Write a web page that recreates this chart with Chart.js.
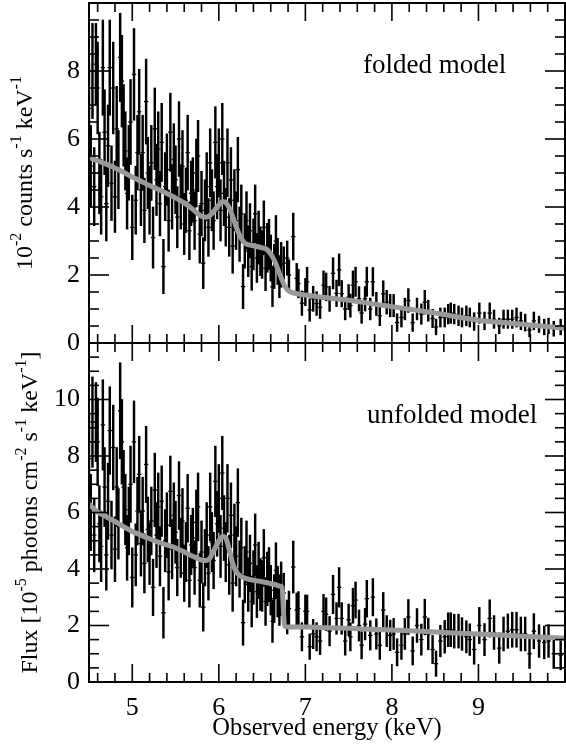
<!DOCTYPE html>
<html>
<head>
  <meta charset="utf-8">
  <title>Folded and unfolded spectrum</title>
  <script src="https://cdn.jsdelivr.net/npm/chart.js"></script>
  <style>
    body { margin: 0; background: #fff; }
    #wrap { position: relative; width: 566px; height: 744px; }
    canvas { position: absolute; left: 0; }
    #top { top: 0; }
    #bottom { top: 340px; }
  </style>
</head>
<body>
<div id="wrap">
  <canvas id="top" width="566" height="362"></canvas>
  <canvas id="bottom" width="566" height="404"></canvas>
</div>
<script>
// bin energies (keV)
const energies = [
  4.50,4.52,4.54,4.56,4.58,4.60,4.62,4.64,4.66,4.68,
  4.70,4.72,4.74,4.76,4.78,4.80,4.82,4.84,4.86,4.88,
  4.90,4.92,4.94,4.96,4.98,5.00,5.02,5.04,5.06,5.08,
  5.10,5.12,5.14,5.16,5.18,5.20,5.22,5.24,5.26,5.28,
  5.30,5.32,5.34,5.36,5.38,5.40,5.42,5.44,5.46,5.48,
  5.50,5.52,5.54,5.56,5.58,5.60,5.62,5.64,5.66,5.68,
  5.70,5.72,5.74,5.76,5.78,5.80,5.82,5.84,5.86,5.88,
  5.90,5.92,5.94,5.96,5.98,6.00,6.02,6.04,6.06,6.08,
  6.10,6.12,6.14,6.16,6.18,6.20,6.22,6.24,6.26,6.28,
  6.30,6.32,6.34,6.36,6.38,6.40,6.42,6.44,6.46,6.48,
  6.50,6.52,6.54,6.56,6.58,6.60,6.62,6.64,6.66,6.68,
  6.70,6.72,
  6.75,6.79,6.81,6.86,6.90,6.92,6.96,7.00,7.02,7.05,
  7.09,7.13,7.17,7.21,7.24,7.28,7.32,7.36,7.39,7.42,
  7.46,7.50,7.52,7.55,7.58,7.62,7.65,7.69,7.71,7.75,
  7.78,7.82,7.86,7.90,7.94,7.98,8.02,8.06,8.11,8.15,
  8.19,8.24,8.29,8.34,8.38,8.42,8.47,8.51,8.56,8.61,
  8.65,8.68,8.72,8.77,8.81,8.86,8.90,8.95,9.01,9.07,
  9.13,9.18,9.24,9.29,9.34,9.39,9.44,9.49,9.54,9.59,
  9.64,9.70,9.76,9.81,9.87,9.95
];

// folded spectrum, 10^-2 counts s^-1 keV^-1
const foldedCounts = [
  6.9,5.2,8.0,4.6,8.2,7.5,5.0,4.3,8.1,6.2,
  4.1,5.8,8.1,4.7,7.5,4.3,6.3,5.1,8.4,7.7,
  6.4,5.65,4.4,5.3,6.5,3.4,7.9,4.2,5.6,6.8,
  4.5,5.6,3.9,7.1,5.0,4.2,5.3,3.1,6.3,4.8,
  5.7,4.1,5.9,2.25,4.6,5.1,3.6,6.2,4.3,5.4,
  4.8,3.7,6.0,4.3,5.2,3.5,4.2,5.6,3.3,4.4,
  4.5,3.6,5.0,5.5,3.2,4.1,2.35,3.9,4.6,3.4,
  5.3,4.2,3.6,5.9,4.6,5.3,3.9,6.0,4.4,3.7,
  5.3,3.4,4.8,2.85,4.2,3.6,5.1,3.2,3.8,1.66,
  3.0,3.6,2.7,3.3,2.25,2.9,3.8,2.5,3.1,2.7,
  2.6,3.4,2.2,2.8,2.9,2.5,1.65,2.25,3.0,2.4,
  1.95,2.3,
  2.35,2.5,2.0,3.13,1.9,1.75,1.17,1.5,1.8,0.97,
  1.3,1.16,1.05,1.7,1.65,1.3,2.05,1.46,2.15,1.45,
  1.0,1.35,1.1,1.7,1.8,1.3,0.88,1.3,1.8,1.0,
  1.8,1.15,0.8,1.45,1.2,1.1,1.1,0.6,0.75,1.0,
  1.25,0.6,1.0,0.85,1.2,0.95,0.72,0.47,0.75,0.75,
  0.85,0.88,0.85,0.8,0.75,0.8,0.75,0.63,0.88,0.65,
  0.88,0.7,0.5,0.7,0.7,0.7,0.75,0.65,0.6,0.38,
  0.65,0.55,0.47,0.5,0.42,0.47
];
const foldedErrors = [
  1.35,1.2,1.4,1.15,1.2,1.35,1.2,1.1,1.4,1.25,
  1.1,1.2,1.4,1.1,1.35,1.05,1.25,1.15,1.3,1.35,
  1.2,1.15,1.05,1.1,1.25,0.95,1.35,1.0,1.1,1.25,
  1.05,1.1,0.95,1.25,1.05,1.0,1.1,0.9,1.2,1.05,
  1.1,0.95,1.15,0.8,1.0,1.05,0.9,1.15,0.95,1.05,
  1.0,0.9,1.1,0.95,1.05,0.9,0.95,1.1,0.85,0.95,
  0.95,0.85,1.0,1.05,0.85,0.95,0.75,0.9,1.0,0.85,
  1.0,0.9,0.85,1.05,0.95,1.0,0.9,1.05,0.95,0.85,
  1.0,0.85,0.95,0.8,0.9,0.85,0.95,0.8,0.85,0.65,
  0.8,0.85,0.75,0.8,0.7,0.75,0.85,0.72,0.78,0.72,
  0.7,0.78,0.66,0.72,0.74,0.68,0.58,0.65,0.75,0.68,
  0.62,0.66,
  0.48,0.5,0.45,0.69,0.44,0.42,0.36,0.4,0.43,0.33,
  0.37,0.35,0.33,0.42,0.41,0.37,0.46,0.39,0.47,0.39,
  0.32,0.37,0.34,0.42,0.43,0.36,0.3,0.36,0.43,0.32,
  0.42,0.34,0.29,0.38,0.35,0.33,0.33,0.26,0.28,0.32,
  0.35,0.26,0.32,0.3,0.35,0.31,0.27,0.23,0.28,0.28,
  0.29,0.3,0.29,0.29,0.28,0.29,0.28,0.26,0.3,0.26,
  0.3,0.27,0.23,0.27,0.27,0.27,0.28,0.26,0.25,0.2,
  0.26,0.24,0.23,0.23,0.22,0.23
];

// unfolded spectrum, 10^-5 photons cm^-2 s^-1 keV^-1
const unfoldedFlux = [
  7.9,6.0,9.2,5.2,9.2,8.5,5.6,4.8,9.1,6.9,
  4.5,6.4,8.9,5.2,8.3,4.7,6.9,5.6,9.6,8.5,
  6.9,6.1,4.75,5.7,7.0,3.7,8.5,4.5,6.05,7.35,
  4.9,6.05,4.2,7.7,5.4,4.55,5.7,3.35,6.8,5.2,
  6.2,4.45,6.4,2.45,5.0,5.55,3.9,6.75,4.7,5.9,
  5.3,4.05,6.6,4.75,5.7,3.85,4.6,6.15,3.6,4.85,
  5.1,4.05,5.65,6.2,3.6,4.6,2.65,4.4,5.2,3.85,
  6.2,4.95,4.3,7.1,5.6,6.5,4.8,7.4,5.45,4.6,
  6.5,4.15,5.9,3.5,5.2,4.45,6.35,4.0,4.75,2.1,
  3.8,4.6,3.45,4.2,2.85,3.7,4.85,3.2,3.95,3.45,
  3.4,4.4,2.85,3.65,3.8,3.25,2.15,2.95,3.95,3.2,
  2.9,3.3,
  3.15,2.3,2.6,4.07,2.55,2.6,1.6,2.5,2.5,1.25,
  1.7,1.6,1.45,2.5,2.4,1.8,3.1,2.25,3.35,2.25,
  1.45,2.2,1.6,2.7,2.9,2.0,1.3,2.05,2.95,1.65,
  3.0,1.7,1.3,2.55,1.8,1.65,1.7,1.05,1.3,1.7,
  2.3,1.1,2.0,1.5,2.3,1.7,1.15,0.65,1.45,1.6,
  1.85,1.85,1.8,1.8,1.7,1.6,1.5,1.15,2.0,1.5,
  2.25,1.75,1.2,1.7,1.8,1.85,1.85,1.7,1.7,1.0,
  1.8,1.45,1.4,1.45,1.0,0.95
];
const unfoldedErrors = [
  1.55,1.35,1.6,1.3,1.4,1.55,1.35,1.25,1.6,1.4,
  1.25,1.35,1.55,1.2,1.5,1.15,1.4,1.25,1.7,1.5,
  1.3,1.25,1.15,1.2,1.35,1.05,1.45,1.1,1.2,1.35,
  1.15,1.2,1.05,1.35,1.15,1.1,1.2,1.0,1.3,1.15,
  1.2,1.05,1.25,0.9,1.1,1.15,1.0,1.25,1.05,1.15,
  1.1,1.0,1.2,1.05,1.15,1.0,1.05,1.2,0.95,1.05,
  1.05,0.95,1.15,1.2,0.95,1.1,0.85,1.0,1.15,0.95,
  1.2,1.05,1.0,1.25,1.15,1.2,1.1,1.3,1.15,1.05,
  1.2,1.05,1.15,1.0,1.1,1.05,1.2,1.0,1.05,0.8,
  1.0,1.1,0.95,1.0,0.9,0.95,1.1,0.92,1.0,0.92,
  0.9,1.0,0.85,0.95,0.96,0.88,0.75,0.85,0.98,0.9,
  0.9,0.95,
  0.7,0.6,0.62,0.92,0.6,0.6,0.5,0.58,0.58,0.45,
  0.52,0.5,0.48,0.6,0.58,0.52,0.68,0.56,0.7,0.56,
  0.5,0.56,0.5,0.62,0.64,0.55,0.48,0.56,0.65,0.52,
  0.66,0.54,0.5,0.62,0.55,0.54,0.55,0.48,0.5,0.55,
  0.62,0.5,0.6,0.55,0.63,0.56,0.5,0.45,0.56,0.58,
  0.6,0.6,0.6,0.6,0.58,0.57,0.56,0.52,0.64,0.57,
  0.66,0.6,0.54,0.6,0.61,0.62,0.62,0.6,0.6,0.52,
  0.62,0.58,0.58,0.58,0.52,0.52
];

// best-fit model curves
const modelEnergies = [
  4.5,4.6,4.7,4.8,4.9,5.0,5.1,5.2,5.3,5.4,
  5.5,5.6,5.7,5.75,5.8,5.85,5.9,5.95,6.0,6.05,
  6.08,6.12,6.16,6.2,6.25,6.3,6.4,6.5,6.55,6.6,
  6.65,6.7,6.73,6.76,6.8,6.85,6.9,7.0,7.25,7.5,
  7.75,8.0,8.5,9.0,9.5,10.0
];
const foldedModel = [
  5.45,5.36,5.26,5.15,5.02,4.88,4.76,4.63,4.52,4.40,
  4.27,4.12,3.93,3.82,3.73,3.70,3.76,3.90,4.06,4.16,
  4.13,3.98,3.72,3.42,3.12,2.94,2.86,2.80,2.76,2.62,
  2.38,2.05,1.86,1.68,1.55,1.48,1.45,1.41,1.33,1.26,
  1.16,1.07,0.88,0.67,0.55,0.43
];
const unfoldedModel = [
  6.30,6.02,5.85,5.68,5.50,5.33,5.20,5.07,4.95,4.85,
  4.75,4.60,4.45,4.38,4.32,4.30,4.40,4.70,5.00,5.15,
  5.10,4.70,4.20,3.90,3.75,3.68,3.60,3.55,3.52,3.48,
  3.45,3.40,3.36,1.97,1.95,1.95,1.95,1.95,1.92,1.90,
  1.87,1.84,1.77,1.70,1.62,1.55
];

const xTicks = [5, 6, 7, 8, 9];
const foldedTicks = [0, 2, 4, 6, 8];
const unfoldedTicks = [0, 2, 4, 6, 8, 10];

const FONT = '"Liberation Serif", "Times New Roman", serif';
Chart.defaults.font.family = FONT;
Chart.defaults.color = '#000';

function drawTitle(ctx, parts, cx, cy, size) {
  const big = size + 'px ' + FONT;
  const small = Math.round(size * 0.68) + 'px ' + FONT;
  ctx.save();
  ctx.translate(cx, cy);
  ctx.rotate(-Math.PI / 2);
  ctx.fillStyle = '#000';
  ctx.textBaseline = 'alphabetic';
  let w = 0;
  parts.forEach(p => { ctx.font = p[1] ? small : big; w += ctx.measureText(p[0]).width; });
  let x = -w / 2;
  parts.forEach(p => {
    ctx.font = p[1] ? small : big;
    ctx.fillText(p[0], x, p[1] ? -size * 0.45 : 0);
    x += ctx.measureText(p[0]).width;
  });
  ctx.restore();
}

const framePlugin = {
  id: 'frame',
  afterDraw(chart) {
    const o = chart.options.plugins.frame;
    const { ctx, chartArea: a } = chart;
    const x = chart.scales.x, y = chart.scales.y;
    const seg = (x1, y1, x2, y2) => { ctx.beginPath(); ctx.moveTo(x1, y1); ctx.lineTo(x2, y2); ctx.stroke(); };
    ctx.save();
    ctx.strokeStyle = '#000';
    ctx.lineWidth = 1.6;
    for (let k = 23; k <= 49; k++) {
      const px = x.getPixelForValue(k / 5);
      const len = k % 5 === 0 ? 18 : 9;
      seg(px, a.top, px, a.top + len);
      seg(px, a.bottom, px, a.bottom - len);
    }
    for (let k = 1; k < y.max * 2; k++) {
      const py = y.getPixelForValue(k / 2);
      const len = k % 4 === 0 ? 20 : 10;
      seg(a.left, py, a.left + len, py);
      seg(a.right, py, a.right - len, py);
    }
    ctx.lineWidth = 2;
    ctx.strokeRect(a.left, a.top, a.right - a.left, a.bottom - a.top);
    ctx.fillStyle = '#000';
    ctx.font = '27px ' + FONT;
    ctx.textBaseline = 'alphabetic';
    ctx.textAlign = 'left';
    ctx.fillText(o.label, o.labelX, o.labelY);
    ctx.restore();
    drawTitle(ctx, o.title, o.titleX, (a.top + a.bottom) / 2, 24);
  }
};

function panel(id, values, errors, model, yMax, yTicks, opts) {
  const points = energies.map((e, i) => ({ x: e, y: values[i] }));
  const bars = energies.map((e, i) => ({ x: e, y: [values[i] - errors[i], values[i] + errors[i]] }));
  const curve = modelEnergies.map((e, i) => ({ x: e, y: model[i] }));
  const withX = opts.withX;
  return new Chart(document.getElementById(id), {
    type: 'scatter',
    data: {
      datasets: [
        { type: 'line', data: curve, borderColor: '#999999', borderWidth: 5, pointRadius: 0,
          cubicInterpolationMode: 'monotone', order: 0 },
        { type: 'scatter', data: points, pointStyle: 'line', pointRadius: 2.2,
          borderColor: '#000', borderWidth: 1.3, order: 1 },
        { type: 'bar', data: bars, backgroundColor: '#000', barThickness: 1.8,
          grouped: false, order: 2 }
      ]
    },
    options: {
      responsive: false,
      animation: false,
      devicePixelRatio: 1,
      layout: { autoPadding: false, padding: { top: 3, right: 1, left: 0, bottom: withX ? 0 : 19 } },
      plugins: {
        legend: { display: false },
        tooltip: { enabled: false },
        frame: opts
      },
      scales: {
        x: {
          type: 'linear', min: 4.5, max: 10, offset: false, display: withX,
          afterBuildTicks: s => { s.ticks = xTicks.map(v => ({ value: v })); },
          afterFit: s => {
            if (withX) s.height = 62;
            s.paddingLeft = 0; s.paddingRight = 0;
          },
          grid: { display: false, drawTicks: false },
          border: { display: false },
          ticks: { font: { size: 26 }, color: '#000', padding: 11, maxRotation: 0 },
          title: { display: true, text: 'Observed energy (keV)', color: '#000',
                   font: { size: 24.5 }, padding: { top: 0, bottom: 1 } }
        },
        y: {
          type: 'linear', min: 0, max: yMax,
          afterBuildTicks: s => { s.ticks = yTicks.map(v => ({ value: v })); },
          afterFit: s => { s.width = 89; s.paddingTop = 0; s.paddingBottom = 0; },
          grid: { display: false, drawTicks: false },
          border: { display: false },
          ticks: { font: { size: 26 }, color: '#000', padding: 9 }
        }
      }
    },
    plugins: [framePlugin]
  });
}

panel('top', foldedCounts, foldedErrors, foldedModel, 10, foldedTicks, {
  withX: false, label: 'folded model', labelX: 363, labelY: 73, titleX: 32,
  title: [['10'], ['-2', 1], [' counts s'], ['-1', 1], [' keV'], ['-1', 1]]
});
panel('bottom', unfoldedFlux, unfoldedErrors, unfoldedModel, 12, unfoldedTicks, {
  withX: true, label: 'unfolded model', labelX: 367, labelY: 83, titleX: 37,
  title: [['Flux [10'], ['-5', 1], [' photons cm'], ['-2', 1], [' s'], ['-1', 1], [' keV'], ['-1', 1], [']']]
});
</script>
</body>
</html>
